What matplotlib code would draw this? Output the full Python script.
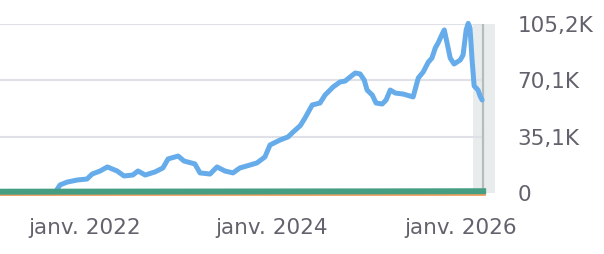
#!/usr/bin/env python3
# stars-over-time style chart
import numpy as np
import matplotlib.pyplot as plt
import matplotlib.dates as mdates

# blue series (thousands)
blue_dates = ['2021-02-08', '2021-09-09', '2021-09-29', '2021-10-27', '2021-12-06',
              '2022-01-12', '2022-02-01', '2022-03-04', '2022-04-01', '2022-05-09',
              '2022-06-05', '2022-07-09', '2022-07-29', '2022-08-26', '2022-10-03',
              '2022-11-03', '2022-11-23', '2023-01-01', '2023-01-24', '2023-03-07',
              '2023-03-27', '2023-05-05', '2023-06-01', '2023-07-02', '2023-08-02',
              '2023-08-29', '2023-10-07', '2023-11-03', '2023-12-04', '2023-12-24',
              '2024-02-01', '2024-03-03', '2024-03-23', '2024-04-20', '2024-05-08',
              '2024-06-05', '2024-07-05', '2024-07-25', '2024-08-25', '2024-09-21',
              '2024-10-11', '2024-10-30', '2024-11-19', '2024-12-08', '2024-12-24',
              '2025-01-04', '2025-01-24', '2025-02-08', '2025-03-04', '2025-03-19',
              '2025-04-04', '2025-04-24', '2025-05-24', '2025-07-02', '2025-07-22',
              '2025-08-10', '2025-08-30', '2025-09-13', '2025-09-26', '2025-10-07',
              '2025-10-23', '2025-10-31', '2025-11-10', '2025-11-23', '2025-12-08',
              '2026-01-01', '2026-01-12', '2026-01-24', '2026-02-01', '2026-02-08',
              '2026-02-16', '2026-02-24', '2026-03-11', '2026-03-19', '2026-03-27']
blue_vals = [0, 0, 5.0, 6.8, 8.1,
             8.7, 11.8, 13.7, 16.2, 13.7,
             10.6, 11.2, 13.7, 11.2, 13.1,
             15.6, 21.2, 23.0, 19.9, 18.1,
             12.5, 11.8, 16.2, 13.7, 12.5,
             15.6, 17.4, 18.7, 22.4, 29.9,
             33.0, 34.9, 38.0, 42.0, 46.7,
             54.8, 56.0, 61.0, 66.0, 69.1,
             69.7, 72.2, 74.7, 74.1, 70.3,
             64.1, 61.0, 56.0, 55.4, 57.9,
             64.1, 62.2, 61.6, 59.8, 71.6,
             75.3, 81.5, 84.0, 90.3, 93.4,
             99.0, 101.5, 94.0, 84.0, 80.3,
             82.8, 85.9, 101.5, 105.6, 102.7,
             82.8, 66.6, 64.1, 60.4, 57.9]

# green and orange series stay near zero
green_dates = ['2021-02-08', '2023-01-01', '2025-01-01', '2026-03-31']
green_vals = [0.8, 0.9, 1.0, 1.1]
orange_dates = ['2021-02-08', '2026-03-31']
orange_vals = [0, 0]

yticks = [0, 35.07, 70.13, 105.2]
ytick_labels = ['0', '35,1K', '70,1K', '105,2K']
xtick_dates = ['2022-01-01', '2024-01-01', '2026-01-01']
xtick_labels = ['janv. 2022', 'janv. 2024', 'janv. 2026']

text_col = '#62626c'

fig = plt.figure(figsize=(6.04, 2.54), dpi=100)
ax = fig.add_axes([0, 0.2402, 495/604, 0.6653])

to_d = lambda lst: mdates.datestr2num(lst)
x0 = to_d(['2021-02-08'])[0]
x_end = to_d(['2026-03-31'])[0]

# grid lines stop at the end of data
ax.hlines(yticks, x0, x_end, color='#e0e0e8', lw=1.5, zorder=1)

# highlighted last period
ax.axvspan(to_d(['2026-02-20'])[0], to_d(['2026-05-16'])[0], color='#e8ecec', zorder=0, lw=0)
ax.axvline(x_end, color='#b4bcbc', lw=1.6, zorder=2)

ax.plot(to_d(blue_dates), blue_vals, color='#66acea', lw=3.6, solid_joinstyle='round',
        solid_capstyle='round', zorder=3, clip_on=False)
ax.plot(to_d(orange_dates), orange_vals, color='#f0a060', lw=3.5, zorder=4, clip_on=False)
ax.plot(to_d(green_dates), green_vals, color='#469e82', lw=4.3, zorder=5, clip_on=False)

ax.set_xlim(x0, to_d(['2026-05-16'])[0])
ax.set_ylim(0, 105.2)

ax.yaxis.tick_right()
ax.set_yticks(yticks)
ax.set_yticklabels(ytick_labels)
ax.set_xticks(to_d(xtick_dates))
ax.set_xticklabels(xtick_labels)
ax.tick_params(axis='both', length=0, labelsize=15.5, labelcolor=text_col)
ax.tick_params(axis='y', pad=16)
ax.tick_params(axis='x', pad=18)
for s in ax.spines.values():
    s.set_visible(False)

fig.savefig('out.png', dpi=100)
